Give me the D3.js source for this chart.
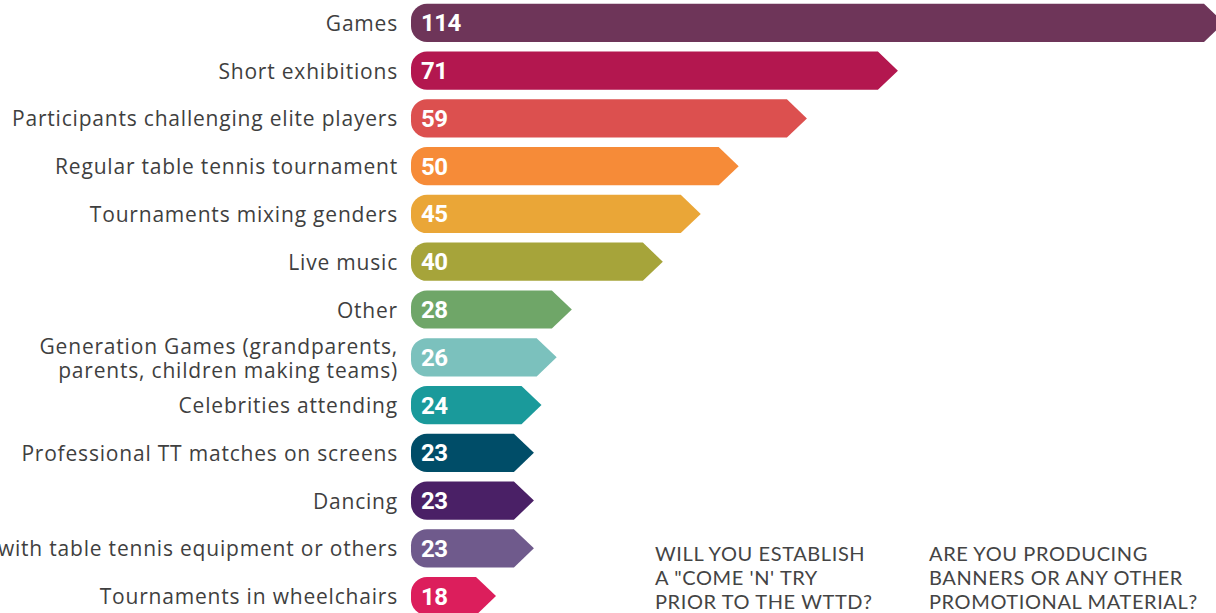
<!DOCTYPE html>
<html>
<head>
<meta charset="utf-8">
<script src="https://cdn.jsdelivr.net/npm/d3@7"></script>
<style>
html,body{margin:0;padding:0;background:#fff;overflow:hidden;}
svg{display:block;}
</style>
</head>
<body>
<svg id="chart" width="1216" height="613"></svg>
<script>
const categories = [
  ["Games"],
  ["Short exhibitions"],
  ["Participants challenging elite players"],
  ["Regular table tennis tournament"],
  ["Tournaments mixing genders"],
  ["Live music"],
  ["Other"],
  ["Generation Games (grandparents,", "parents, children making teams)"],
  ["Celebrities attending"],
  ["Professional TT matches on screens"],
  ["Dancing"],
  ["Play with table tennis equipment or others"],
  ["Tournaments in wheelchairs"]
];
const values = [114, 71, 59, 50, 45, 40, 28, 26, 24, 23, 23, 23, 18];
const colors = ["#6e3559", "#b3174f", "#dc504f", "#f68b38", "#eaa637", "#a6a43a", "#6fa668", "#7bc1bd", "#1a9a9b", "#004d68", "#4a2066", "#6f5a8c", "#dc1e5c"];
const questions = [
  ["WILL YOU ESTABLISH", "A \"COME 'N' TRY", "PRIOR TO THE WTTD?"],
  ["ARE YOU PRODUCING", "BANNERS OR ANY OTHER", "PROMOTIONAL MATERIAL?"]
];

const svg = d3.select("#chart");
const barLeft = 411;
const x = d3.scaleLinear().domain([0, 114]).range([359.5, 1224]);
const y = d3.scaleBand().domain(d3.range(values.length)).range([-1, 620]).paddingInner(0.2).paddingOuter(0.1);
const bh = y.bandwidth();
const r = 16, ad = 20;

function barPath(i) {
  const y0 = y(i), y1 = y0 + bh, yc = y0 + bh / 2;
  const tip = x(values[i]);
  return `M${barLeft + r},${y0} L${tip - ad},${y0} L${tip},${yc} L${tip - ad},${y1} L${barLeft + r},${y1}` +
    ` A${r},${r} 0 0 1 ${barLeft},${y1 - r} L${barLeft},${y0 + r} A${r},${r} 0 0 1 ${barLeft + r},${y0} Z`;
}

const g = svg.append("g");
g.selectAll("path.bar").data(values).join("path")
  .attr("class", "bar")
  .attr("d", (d, i) => barPath(i))
  .attr("fill", (d, i) => colors[i]);

g.selectAll("text.val").data(values).join("text")
  .attr("class", "val")
  .attr("x", barLeft + 10)
  .attr("y", (d, i) => y(i) + bh / 2 + 8.5)
  .attr("fill", "#fff")
  .attr("font-family", "Roboto, sans-serif")
  .attr("font-weight", "bold")
  .attr("font-size", 24)
  .attr("letter-spacing", -0.5)
  .text(d => d);

const labels = g.selectAll("text.lab").data(categories).join("text")
  .attr("class", "lab")
  .attr("text-anchor", "end")
  .attr("fill", "#3f3f3f")
  .attr("font-family", "'Open Sans', sans-serif")
  .attr("font-size", 21)
  .attr("letter-spacing", 0.8);
labels.each(function (lines, i) {
  const t = d3.select(this);
  const yc = y(i) + bh / 2;
  const start = yc + 8 - (lines.length - 1) * 11.5;
  lines.forEach((ln, k) => {
    t.append("tspan").attr("x", 398).attr("y", start + k * 24).text(ln);
  });
});

const qx = [655, 929];
questions.forEach((lines, qi) => {
  const t = svg.append("text")
    .attr("fill", "#444")
    .attr("font-family", "Lato, sans-serif")
    .attr("font-size", 20)
    .attr("letter-spacing", 0.6);
  lines.forEach((ln, k) => {
    t.append("tspan").attr("x", qx[qi]).attr("y", 561 + k * 24).text(ln);
  });
});
</script>
</body>
</html>
